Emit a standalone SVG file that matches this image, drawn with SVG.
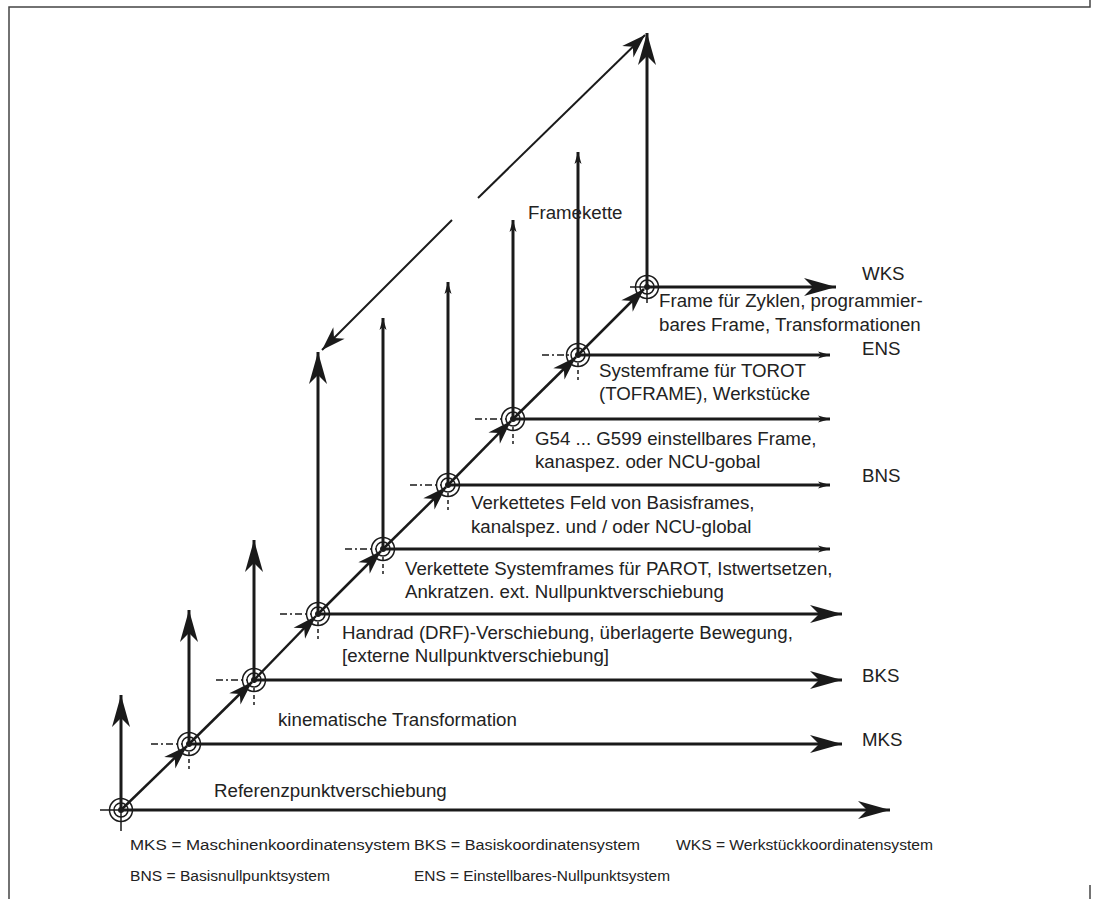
<svg xmlns="http://www.w3.org/2000/svg" width="1111" height="899" viewBox="0 0 1111 899">
<defs>
<style>
.ln{stroke:#1a1a1a;stroke-width:3;fill:none}
.dg{stroke:#1a1a1a;stroke-width:2.5;fill:none}
.fc{stroke:#1a1a1a;stroke-width:2;fill:none}
.dd{stroke:#1a1a1a;stroke-width:1.5;fill:none;stroke-dasharray:7 3 2 3}
.ds{stroke:#1a1a1a;stroke-width:1.5;fill:none;stroke-dasharray:4 3}
.cx{stroke:#1a1a1a;stroke-width:1.5;fill:none}
.c{stroke:#1a1a1a;stroke-width:1.5;fill:none}
.t{font-family:"Liberation Sans",Arial,sans-serif;font-size:18.7px;fill:#222}
.lg{font-family:"Liberation Sans",Arial,sans-serif;font-size:14px;fill:#222}
.bd{stroke:#444;stroke-width:1.5;fill:none}
</style>
<marker id="big" markerUnits="userSpaceOnUse" markerWidth="40" markerHeight="24" viewBox="-34 -12 40 24" refX="0" refY="0" orient="auto">
<path d="M0,0 L-32,-9 L-23,0 L-32,9 Z" fill="#1a1a1a"/>
</marker>
<marker id="mid" markerUnits="userSpaceOnUse" markerWidth="30" markerHeight="20" viewBox="-26 -10 30 20" refX="0" refY="0" orient="auto">
<path d="M0,0 L-24,-8 L-17,0 L-24,8 Z" fill="#1a1a1a"/>
</marker>
<marker id="sm" markerUnits="userSpaceOnUse" markerWidth="16" markerHeight="10" viewBox="-14 -5 16 10" refX="0" refY="0" orient="auto">
<path d="M0,0 L-12,-3.5 L-9,0 L-12,3.5 Z" fill="#1a1a1a"/>
</marker>
</defs>

<g id="frame">
<path class="bd" d="M9,899 V7 H1090 V0"/>
<path class="bd" d="M1090,885 V899"/>
</g>

<g id="connectors">
<line class="dg" x1="121" y1="810" x2="187" y2="746" marker-end="url(#mid)"/>
<line class="dg" x1="189" y1="744" x2="252" y2="682" marker-end="url(#mid)"/>
<line class="dg" x1="254" y1="680" x2="316" y2="616" marker-end="url(#mid)"/>
<line class="dg" x1="318" y1="614" x2="381" y2="551" marker-end="url(#mid)"/>
<line class="dg" x1="383" y1="549" x2="446" y2="487" marker-end="url(#mid)"/>
<line class="dg" x1="448" y1="485" x2="511" y2="421" marker-end="url(#mid)"/>
<line class="dg" x1="513" y1="419" x2="576" y2="357" marker-end="url(#mid)"/>
<line class="dg" x1="578" y1="355" x2="644" y2="289" marker-end="url(#mid)"/>
<line class="ln" x1="121" y1="810" x2="121" y2="695" marker-end="url(#big)"/>
<line class="ln" x1="189" y1="744" x2="189" y2="610" marker-end="url(#big)"/>
<line class="ln" x1="254" y1="680" x2="254" y2="540" marker-end="url(#big)"/>
<line class="ln" x1="318" y1="614" x2="318" y2="352" marker-end="url(#big)"/>
<line class="ln" x1="383" y1="549" x2="383" y2="318" marker-end="url(#sm)"/>
<line class="ln" x1="448" y1="485" x2="448" y2="282" marker-end="url(#sm)"/>
<line class="ln" x1="513" y1="419" x2="513" y2="220" marker-end="url(#sm)"/>
<line class="ln" x1="578" y1="355" x2="578" y2="152" marker-end="url(#sm)"/>
<line class="ln" x1="647" y1="287" x2="647" y2="33" marker-end="url(#big)"/>
<line class="ln" x1="121" y1="810" x2="890" y2="810" marker-end="url(#big)"/>
<line class="ln" x1="189" y1="744" x2="842" y2="744" marker-end="url(#big)"/>
<line class="ln" x1="254" y1="680" x2="842" y2="680" marker-end="url(#big)"/>
<line class="ln" x1="318" y1="614" x2="842" y2="614" marker-end="url(#big)"/>
<line class="ln" x1="383" y1="549" x2="830" y2="549" marker-end="url(#sm)"/>
<line class="ln" x1="448" y1="485" x2="830" y2="485" marker-end="url(#sm)"/>
<line class="ln" x1="513" y1="419" x2="830" y2="419" marker-end="url(#sm)"/>
<line class="ln" x1="578" y1="355" x2="830" y2="355" marker-end="url(#sm)"/>
<line class="ln" x1="647" y1="287" x2="836" y2="287" marker-end="url(#big)"/>
<line class="fc" x1="478" y1="198" x2="645" y2="35" marker-end="url(#mid)"/>
<line class="fc" x1="452" y1="220" x2="322" y2="350" marker-end="url(#mid)"/>
</g>

<g id="n0">
<path class="cx" d="M100,810 H121 M121,810 V831"/>
<circle class="c" cx="121" cy="810" r="11.5"/><circle class="c" cx="121" cy="810" r="7"/><circle cx="121" cy="810" r="3" fill="#1a1a1a"/>
</g>
<g id="n1">
<path class="dd" d="M151,744 H182"/><path class="ds" d="M189,752 V769"/>
<circle class="c" cx="189" cy="744" r="11.5"/><circle class="c" cx="189" cy="744" r="7"/><circle cx="189" cy="744" r="3" fill="#1a1a1a"/>
</g>
<g id="n2">
<path class="dd" d="M216,680 H247"/><path class="ds" d="M254,688 V705"/>
<circle class="c" cx="254" cy="680" r="11.5"/><circle class="c" cx="254" cy="680" r="7"/><circle cx="254" cy="680" r="3" fill="#1a1a1a"/>
</g>
<g id="n3">
<path class="dd" d="M280,614 H311"/><path class="ds" d="M318,622 V639"/>
<circle class="c" cx="318" cy="614" r="11.5"/><circle class="c" cx="318" cy="614" r="7"/><circle cx="318" cy="614" r="3" fill="#1a1a1a"/>
</g>
<g id="n4">
<path class="dd" d="M345,549 H376"/><path class="ds" d="M383,557 V574"/>
<circle class="c" cx="383" cy="549" r="11.5"/><circle class="c" cx="383" cy="549" r="7"/><circle cx="383" cy="549" r="3" fill="#1a1a1a"/>
</g>
<g id="n5">
<path class="dd" d="M410,485 H441"/><path class="ds" d="M448,493 V510"/>
<circle class="c" cx="448" cy="485" r="11.5"/><circle class="c" cx="448" cy="485" r="7"/><circle cx="448" cy="485" r="3" fill="#1a1a1a"/>
</g>
<g id="n6">
<path class="dd" d="M475,419 H506"/><path class="ds" d="M513,427 V444"/>
<circle class="c" cx="513" cy="419" r="11.5"/><circle class="c" cx="513" cy="419" r="7"/><circle cx="513" cy="419" r="3" fill="#1a1a1a"/>
</g>
<g id="n7">
<path class="dd" d="M542,355 H571"/><path class="ds" d="M578,363 V380"/>
<circle class="c" cx="578" cy="355" r="11.5"/><circle class="c" cx="578" cy="355" r="7"/><circle cx="578" cy="355" r="3" fill="#1a1a1a"/>
</g>
<g id="n8">
<path class="cx" d="M630,287 H647 M647,287 V303"/>
<circle class="c" cx="647" cy="287" r="11.5"/><circle class="c" cx="647" cy="287" r="7"/><circle cx="647" cy="287" r="3" fill="#1a1a1a"/>
</g>

<g id="labels">
<text class="t" x="528" y="219">Framekette</text>
<text class="t" x="862" y="280">WKS</text>
<text class="t" x="659" y="307">Frame für Zyklen, programmier-</text>
<text class="t" x="659" y="331">bares Frame, Transformationen</text>
<text class="t" x="862" y="355">ENS</text>
<text class="t" x="599" y="377">Systemframe für TOROT</text>
<text class="t" x="599" y="400">(TOFRAME), Werkstücke</text>
<text class="t" x="535" y="445">G54 ... G599 einstellbares Frame,</text>
<text class="t" x="535" y="468">kanaspez. oder NCU-gobal</text>
<text class="t" x="862" y="482">BNS</text>
<text class="t" x="471" y="509">Verkettetes Feld von Basisframes,</text>
<text class="t" x="471" y="533">kanalspez. und / oder NCU-global</text>
<text class="t" x="405" y="575">Verkettete Systemframes für PAROT, Istwertsetzen,</text>
<text class="t" x="405" y="598">Ankratzen. ext. Nullpunktverschiebung</text>
<text class="t" x="342" y="639">Handrad (DRF)-Verschiebung, überlagerte Bewegung,</text>
<text class="t" x="342" y="662">[externe Nullpunktverschiebung]</text>
<text class="t" x="862" y="682">BKS</text>
<text class="t" x="278" y="726">kinematische Transformation</text>
<text class="t" x="862" y="746">MKS</text>
<text class="t" x="214" y="797">Referenzpunktverschiebung</text>
<text class="lg" x="130" y="850" textLength="280" lengthAdjust="spacingAndGlyphs">MKS = Maschinenkoordinatensystem</text>
<text class="lg" x="414" y="850" textLength="226" lengthAdjust="spacingAndGlyphs">BKS = Basiskoordinatensystem</text>
<text class="lg" x="676" y="850" textLength="257" lengthAdjust="spacingAndGlyphs">WKS = Werkstückkoordinatensystem</text>
<text class="lg" x="130" y="881" textLength="200" lengthAdjust="spacingAndGlyphs">BNS = Basisnullpunktsystem</text>
<text class="lg" x="414" y="881" textLength="256" lengthAdjust="spacingAndGlyphs">ENS = Einstellbares-Nullpunktsystem</text>
</g>
</svg>
